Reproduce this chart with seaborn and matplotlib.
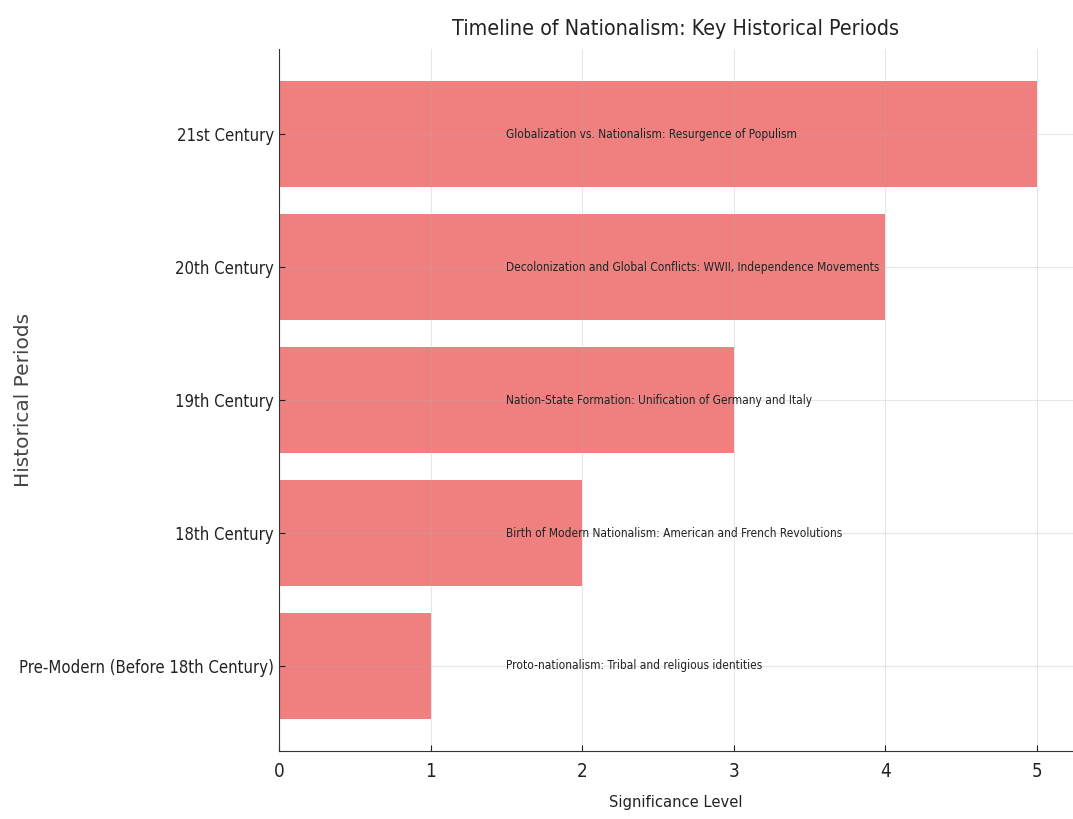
import matplotlib
matplotlib.use("Agg")
import matplotlib.pyplot as plt
import seaborn as sns
import pandas as pd

periods = ['Pre-Modern (Before 18th Century)', '18th Century', '19th Century',
           '20th Century', '21st Century']
significance = [1, 2, 3, 4, 5]
events = ['Proto-nationalism: Tribal and religious identities',
          'Birth of Modern Nationalism: American and French Revolutions',
          'Nation-State Formation: Unification of Germany and Italy',
          'Decolonization and Global Conflicts: WWII, Independence Movements',
          'Globalization vs. Nationalism: Resurgence of Populism']

df = pd.DataFrame({'period': periods, 'significance': significance, 'event': events})

# condensed face to mimic the squeezed look of the original
plt.rcParams['font.family'] = ['DejaVu Sans']
plt.rcParams['font.stretch'] = 'condensed'

fig = plt.figure(figsize=(10.73, 8.19), dpi=100)
ax = fig.add_axes([0.26, 0.083, 0.74, 0.857])
order = periods[::-1]
sns.barplot(data=df, x='significance', y='period', order=order, orient='h',
            color='lightcoral', saturation=1, width=0.8, ax=ax)

for i, p in enumerate(order):
    ev = df.loc[df.period == p, 'event'].iloc[0]
    ax.text(1.5, i, ev, va='center', ha='left', fontsize=8.6, color='#222222')

ax.set_ylim(4.64, -0.64)
ax.set_xlim(0, 5.24)
ax.set_title('Timeline of Nationalism: Key Historical Periods', fontsize=15.4, color='#222222', pad=10)
ax.set_xlabel('Significance Level', fontsize=11.8, color='#222222', labelpad=10)
ax.set_ylabel('Historical Periods', fontsize=14.5, fontstretch='normal', color='#444444')
ax.yaxis.set_label_coords(-0.31, 0.5)
ax.tick_params(axis='y', labelsize=12, colors='#222222', direction='in', length=4)
ax.tick_params(axis='x', labelsize=13.5, colors='#222222', direction='in', length=4, pad=8)
ax.set_xticks([0, 1, 2, 3, 4, 5])
ax.grid(True, alpha=0.3)
ax.spines['top'].set_visible(False)
ax.spines['right'].set_visible(False)
ax.spines['left'].set_color('#333333')
ax.spines['bottom'].set_color('#333333')

fig.savefig('out.png', dpi=100)
